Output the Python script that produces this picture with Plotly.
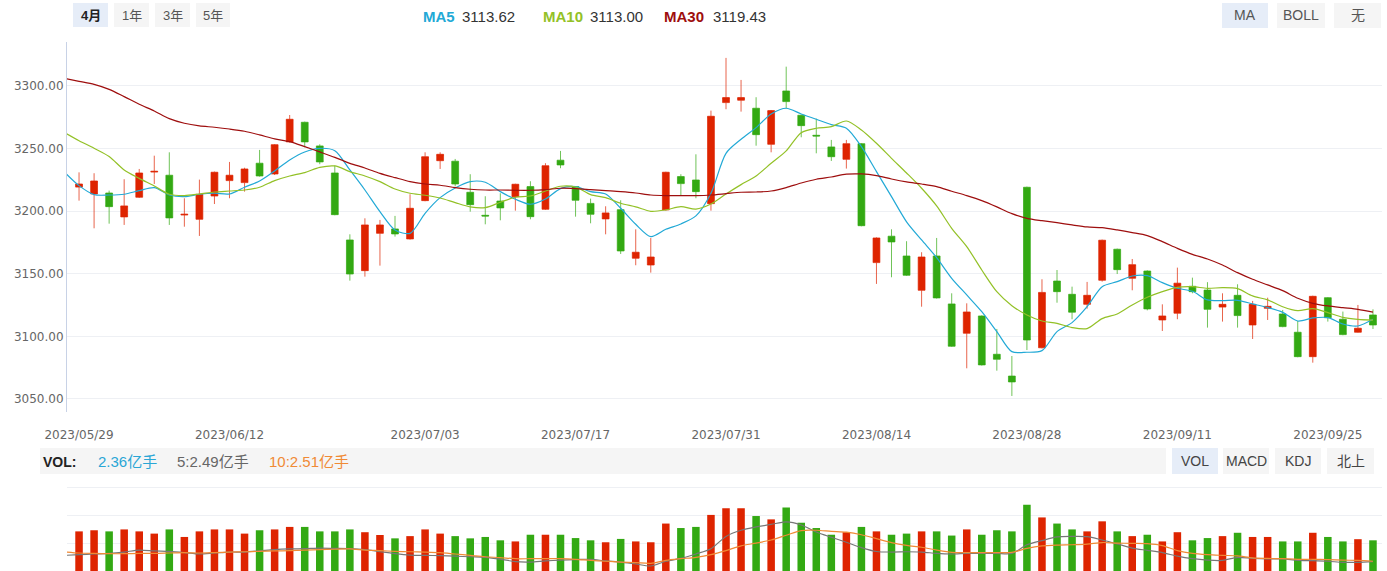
import plotly.graph_objects as go
import pandas as pd

W, H = 1387, 571

# ---------------- data ----------------
all_days = pd.bdate_range("2023-05-29", "2023-09-28")
holidays = pd.to_datetime(["2023-06-22", "2023-06-23"])
dates = [d.strftime("%Y/%m/%d") for d in all_days if d not in holidays]

tick_labels = ["2023/05/29", "2023/06/12", "2023/07/03", "2023/07/17", "2023/07/31",
               "2023/08/14", "2023/08/28", "2023/09/11", "2023/09/25"]

opens = [3219.2, 3213.7, 3214.5, 3195.4, 3211.1, 3231.2, 3228.7, 3196.9, 3193.5, 3212.1,
         3224.4, 3222.8, 3238.3, 3229.7, 3255.3, 3271.0, 3252.1, 3230.5, 3177.0, 3152.5,
         3182.3, 3185.8, 3177.8, 3208.4, 3240.3, 3239.9, 3215.1, 3196.7, 3208.1, 3211.6,
         3219.6, 3201.5, 3240.7, 3219.6, 3206.2, 3193.8, 3201.2, 3162.4, 3157.0, 3201.0,
         3227.6, 3224.9, 3206.0, 3286.7, 3288.6, 3282.2, 3253.4, 3296.0, 3276.6, 3260.6,
         3251.3, 3241.4, 3253.9, 3158.9, 3180.0, 3164.2, 3136.8, 3164.2, 3125.9, 3102.5,
         3116.3, 3085.7, 3068.3, 3219.1, 3090.9, 3144.2, 3133.6, 3125.6, 3144.8, 3169.6,
         3146.4, 3152.2, 3113.1, 3118.5, 3140.0, 3137.0, 3123.4, 3132.8, 3109.1, 3122.4,
         3117.9, 3103.3, 3083.8, 3130.9, 3113.7, 3103.3, 3117.1]
highs = [3231.0, 3230.3, 3216.4, 3225.5, 3233.7, 3244.3, 3247.0, 3210.3, 3225.2, 3231.6,
         3239.3, 3234.7, 3248.9, 3253.6, 3276.8, 3271.5, 3253.4, 3236.4, 3181.5, 3194.3,
         3193.0, 3196.2, 3213.5, 3247.0, 3247.0, 3241.7, 3229.5, 3211.9, 3214.3, 3221.9,
         3223.9, 3238.3, 3248.1, 3220.1, 3210.0, 3203.9, 3208.7, 3185.5, 3178.6, 3231.5,
         3229.5, 3245.4, 3280.3, 3322.4, 3304.8, 3291.0, 3280.8, 3315.4, 3277.1, 3273.9,
         3256.9, 3256.9, 3254.4, 3179.1, 3185.5, 3176.0, 3167.2, 3178.6, 3134.4, 3126.4,
         3116.8, 3105.9, 3084.3, 3219.6, 3145.6, 3153.0, 3139.7, 3143.5, 3177.3, 3170.1,
         3161.8, 3152.7, 3125.6, 3154.9, 3146.9, 3143.3, 3134.4, 3141.6, 3128.3, 3130.9,
         3121.1, 3112.3, 3132.5, 3131.4, 3119.8, 3125.1, 3121.6]
lows = [3208.4, 3186.3, 3190.0, 3189.0, 3210.5, 3221.7, 3189.0, 3187.6, 3180.2, 3205.7,
        3210.3, 3215.6, 3227.6, 3228.9, 3254.8, 3251.0, 3237.5, 3196.7, 3144.5, 3147.7,
        3156.5, 3179.7, 3177.3, 3207.9, 3233.7, 3219.8, 3199.6, 3189.5, 3192.7, 3200.4,
        3193.5, 3201.0, 3234.3, 3195.6, 3190.3, 3181.5, 3165.8, 3156.8, 3150.9, 3200.5,
        3212.7, 3210.3, 3200.4, 3281.4, 3279.5, 3252.3, 3247.0, 3282.2, 3259.0, 3246.2,
        3240.1, 3234.0, 3187.9, 3141.9, 3147.2, 3148.3, 3123.7, 3130.2, 3091.6, 3074.5,
        3076.7, 3072.6, 3052.4, 3089.1, 3090.4, 3126.9, 3113.7, 3122.1, 3143.7, 3149.8,
        3136.8, 3120.8, 3104.3, 3113.7, 3134.4, 3107.0, 3111.8, 3107.0, 3097.9, 3113.1,
        3107.3, 3083.3, 3079.0, 3111.8, 3100.9, 3103.0, 3105.9]
closes = [3221.7, 3224.1, 3203.6, 3204.2, 3230.5, 3231.8, 3194.6, 3197.5, 3213.5, 3231.1,
          3228.7, 3233.7, 3228.1, 3253.1, 3273.4, 3255.3, 3239.3, 3197.2, 3149.8, 3189.0,
          3189.0, 3181.8, 3202.3, 3243.5, 3245.4, 3221.7, 3205.2, 3196.1, 3202.6, 3221.5,
          3195.6, 3236.3, 3236.9, 3208.7, 3197.5, 3198.6, 3168.2, 3167.2, 3163.4, 3231.1,
          3222.0, 3215.6, 3275.8, 3290.7, 3290.7, 3261.1, 3280.3, 3287.5, 3268.3, 3260.0,
          3243.5, 3253.9, 3188.4, 3178.6, 3175.4, 3148.8, 3163.4, 3130.7, 3092.1, 3119.5,
          3077.2, 3081.7, 3063.6, 3097.1, 3135.1, 3135.7, 3119.3, 3132.8, 3176.8, 3153.3,
          3157.3, 3121.9, 3116.3, 3142.5, 3135.7, 3121.6, 3125.6, 3116.6, 3125.6, 3124.0,
          3107.8, 3083.8, 3132.0, 3114.9, 3101.4, 3106.5, 3109.1]

# moving averages as drawn (first value = previous trading day, off the left edge)
ma5 = [3231.6,
       3220.4, 3213.2, 3212.9, 3213.5, 3216.4, 3218.8, 3212.9, 3211.6, 3213.5, 3214.3,
       3213.7, 3219.1, 3224.1, 3232.1, 3240.9, 3247.3, 3250.2, 3248.3, 3232.9, 3216.9,
       3199.6, 3185.0, 3182.3, 3198.3, 3210.8, 3218.5, 3223.6, 3223.1, 3215.6, 3209.5,
       3205.5, 3209.7, 3218.0, 3219.6, 3215.6, 3213.7, 3202.3, 3189.5, 3179.7, 3185.5,
       3189.8, 3196.2, 3214.3, 3246.2, 3257.4, 3266.7, 3277.6, 3282.2, 3277.6, 3273.4,
       3269.1, 3266.2, 3251.5, 3231.6, 3211.6, 3191.5, 3177.0, 3162.9, 3146.4, 3133.1,
       3119.7, 3103.8, 3087.8, 3087.3, 3088.6, 3103.8, 3111.0, 3123.7, 3139.7, 3143.7,
       3148.2, 3148.5, 3142.9, 3138.4, 3136.0, 3129.1, 3128.5, 3128.8, 3125.9, 3123.0,
       3119.2, 3112.3, 3114.7, 3115.0, 3109.9, 3108.3, 3113.6]
ma10 = [3263.0,
        3256.3, 3250.2, 3243.6, 3232.9, 3226.2, 3220.1, 3213.5, 3212.4, 3213.7, 3215.3,
        3216.1, 3216.9, 3219.1, 3224.4, 3228.1, 3230.8, 3235.0, 3236.1, 3231.6, 3228.1,
        3223.6, 3217.7, 3214.3, 3212.7, 3210.5, 3206.8, 3203.4, 3202.8, 3207.1, 3211.1,
        3212.1, 3216.1, 3219.9, 3219.3, 3213.2, 3210.8, 3206.3, 3203.4, 3199.9, 3201.0,
        3203.6, 3201.7, 3205.7, 3213.7, 3221.2, 3228.1, 3238.2, 3248.1, 3262.7, 3266.2,
        3267.5, 3272.0, 3264.8, 3254.2, 3242.2, 3230.5, 3218.3, 3204.2, 3186.3, 3171.7,
        3153.0, 3135.7, 3124.5, 3117.1, 3112.3, 3110.4, 3107.0, 3106.2, 3114.2, 3117.9,
        3125.1, 3131.2, 3135.7, 3139.2, 3139.7, 3138.4, 3138.9, 3138.1, 3132.3, 3129.1,
        3123.7, 3120.5, 3122.1, 3119.0, 3115.2, 3113.6, 3113.0]
ma30 = [3306.1,
        3303.7, 3301.3, 3297.3, 3291.5, 3285.4, 3280.0, 3273.9, 3270.2, 3268.1, 3267.0,
        3265.6, 3263.8, 3260.9, 3257.7, 3255.5, 3251.5, 3247.3, 3243.0, 3238.2, 3234.5,
        3230.2, 3226.8, 3223.6, 3221.7, 3220.7, 3218.8, 3217.5, 3216.9, 3216.9, 3216.7,
        3216.7, 3217.2, 3218.3, 3218.0, 3217.2, 3216.4, 3215.6, 3214.5, 3212.9, 3212.4,
        3212.4, 3212.4, 3212.9, 3214.0, 3215.1, 3215.3, 3216.1, 3218.8, 3222.5, 3225.5,
        3227.3, 3229.5, 3229.7, 3228.4, 3225.7, 3223.4, 3221.7, 3219.6, 3215.9, 3212.4,
        3208.4, 3203.4, 3198.0, 3194.3, 3192.4, 3190.8, 3189.0, 3187.4, 3186.8, 3185.0,
        3182.9, 3180.5, 3175.7, 3170.3, 3165.5, 3161.8, 3157.0, 3150.9, 3145.6, 3141.1,
        3136.5, 3130.4, 3126.4, 3124.3, 3122.9, 3121.6, 3119.4]

# volume panel (values in the panel's grid units)
volumes = [1.42, 1.46, 1.42, 1.49, 1.42, 1.34, 1.49, 1.22, 1.42, 1.49,
           1.49, 1.34, 1.46, 1.49, 1.58, 1.58, 1.42, 1.42, 1.49, 1.39,
           1.29, 1.17, 1.25, 1.49, 1.34, 1.25, 1.17, 1.22, 1.10, 1.06,
           1.30, 1.30, 1.30, 1.18, 1.10, 1.03, 1.15, 1.06, 1.03, 1.70,
           1.54, 1.58, 2.01, 2.25, 2.25, 1.97, 1.85, 2.28, 1.73, 1.54,
           1.30, 1.39, 1.58, 1.42, 1.30, 1.34, 1.42, 1.42, 1.27, 1.49,
           1.30, 1.46, 1.42, 2.37, 1.92, 1.70, 1.49, 1.42, 1.78, 1.42,
           1.25, 1.30, 1.06, 1.39, 1.10, 1.18, 1.25, 1.37, 1.22, 1.22,
           1.06, 1.06, 1.37, 1.22, 1.06, 1.14, 1.10]
vol_ma5 = [0.56,
           0.585, 0.61, 0.63, 0.68, 0.75, 0.72, 0.70, 0.66, 0.61, 0.645,
           0.68, 0.68, 0.72, 0.765, 0.79, 0.80, 0.82, 0.81, 0.80, 0.765,
           0.69, 0.62, 0.57, 0.56, 0.55, 0.53, 0.51, 0.49, 0.425, 0.335,
           0.32, 0.36, 0.39, 0.41, 0.42, 0.36, 0.32, 0.25, 0.18, 0.35,
           0.45, 0.61, 0.80, 1.24, 1.46, 1.58, 1.67, 1.76, 1.65, 1.40,
           1.21, 1.03, 0.84, 0.70, 0.68, 0.69, 0.68, 0.63, 0.61, 0.63,
           0.63, 0.63, 0.63, 0.94, 1.09, 1.22, 1.24, 1.23, 1.11, 0.97,
           0.82, 0.74, 0.66, 0.53, 0.44, 0.39, 0.38, 0.49, 0.45, 0.43,
           0.43, 0.38, 0.37, 0.35, 0.31, 0.31, 0.335]
vol_ma10 = [0.69,
            0.645, 0.63, 0.62, 0.62, 0.63, 0.63, 0.645, 0.66, 0.645, 0.66,
            0.68, 0.69, 0.705, 0.72, 0.73, 0.75, 0.765, 0.78, 0.79, 0.75,
            0.73, 0.705, 0.69, 0.68, 0.66, 0.61, 0.56, 0.51, 0.48, 0.44,
            0.44, 0.44, 0.44, 0.42, 0.38, 0.35, 0.32, 0.30, 0.275, 0.38,
            0.44, 0.49, 0.585, 0.73, 0.90, 1.00, 1.11, 1.28, 1.45, 1.46,
            1.42, 1.39, 1.30, 1.16, 1.02, 0.92, 0.85, 0.75, 0.67, 0.66,
            0.66, 0.66, 0.67, 0.81, 0.90, 0.93, 0.94, 0.96, 1.02, 1.00,
            0.99, 0.98, 0.91, 0.73, 0.63, 0.585, 0.56, 0.54, 0.47, 0.45,
            0.44, 0.42, 0.42, 0.41, 0.39, 0.38, 0.35]

header_ma_values = ["3113.62", "3113.00", "3119.43"]
vol_header = ["2.36亿手", "5:2.49亿手", "10:2.51亿手"]
y_ticks = [3050, 3100, 3150, 3200, 3250, 3300]

# ---------------- styling ----------------
RED = "#de2400"
GREEN = "#33a913"
C_MA5, C_MA10, C_MA30 = "#22a9d6", "#93c127", "#9e0e0e"
C_VMA5, C_VMA10 = "#777777", "#f08a35"
FONT = "Liberation Sans, Arial, Noto Sans CJK SC, sans-serif"
TICKFONT = dict(family="DejaVu Sans, Noto Sans CJK SC", size=12, color="#666666")

idx = list(range(len(dates)))
ma_idx = list(range(-1, len(dates)))
vol_colors = [RED if c > o else GREEN for o, c in zip(opens, closes)]
tick_idx = [dates.index(t) for t in tick_labels]

fig = go.Figure()
fig.add_trace(go.Candlestick(
    x=idx, open=opens, high=highs, low=lows, close=closes,
    increasing=dict(line=dict(color="rgba(222,36,0,0.7)", width=1), fillcolor=RED),
    decreasing=dict(line=dict(color="rgba(51,169,19,0.7)", width=1), fillcolor=GREEN),
    whiskerwidth=0, xaxis="x", yaxis="y", hoverinfo="skip"))
for arr, col in [(ma5, C_MA5), (ma10, C_MA10), (ma30, C_MA30)]:
    fig.add_trace(go.Scatter(x=ma_idx, y=arr, mode="lines",
                             line=dict(color=col, width=1.2, shape="spline", smoothing=0.8),
                             xaxis="x", yaxis="y", hoverinfo="skip"))
fig.add_trace(go.Bar(x=idx, y=volumes, marker=dict(color=vol_colors, line=dict(width=0)),
                     width=0.5, xaxis="x2", yaxis="y2", hoverinfo="skip"))
for arr, col in [(vol_ma5, C_VMA5), (vol_ma10, C_VMA10)]:
    fig.add_trace(go.Scatter(x=ma_idx, y=arr, mode="lines",
                             line=dict(color=col, width=1.2, shape="spline", smoothing=0.8),
                             xaxis="x2", yaxis="y2", hoverinfo="skip"))

def px(x):
    return x / W

def py(y):
    return 1 - y / H

shapes = []
annotations = []

def button(x0, x1, y0, y1, text, fill, color="#555555", size=14, bold=False):
    shapes.append(dict(type="rect", xref="paper", yref="paper", x0=px(x0), x1=px(x1),
                       y0=py(y1), y1=py(y0), fillcolor=fill, line=dict(width=0), layer="below"))
    annotations.append(dict(xref="paper", yref="paper", x=px((x0 + x1) / 2), y=py((y0 + y1) / 2),
                            text=f"<b>{text}</b>" if bold else text, showarrow=False,
                            xanchor="center", yanchor="middle",
                            font=dict(family=FONT, size=size, color=color)))

def label(x, y, text, color, size=15, bold=False):
    annotations.append(dict(xref="paper", yref="paper", x=px(x), y=py(y),
                            text=f"<b>{text}</b>" if bold else text, showarrow=False,
                            xanchor="left", yanchor="middle",
                            font=dict(family=FONT, size=size, color=color)))

SEL = "#e6edf8"
OFF = "#f5f5f5"
# range buttons
button(73, 108, 3, 27, "4月", SEL, color="#222222", size=13, bold=True)
button(114, 149, 3, 27, "1年", OFF, size=13)
button(155, 190, 3, 27, "3年", OFF, size=13)
button(196, 230, 3, 27, "5年", OFF, size=13)
# MA legend
label(421, 16, "MA5", C_MA5, bold=True)
label(460, 16, header_ma_values[0], "#333333")
label(541, 16, "MA10", C_MA10, bold=True)
label(588, 16, header_ma_values[1], "#333333")
label(662, 16, "MA30", C_MA30, bold=True)
label(711, 16, header_ma_values[2], "#333333")
# indicator buttons
button(1222, 1268, 3, 28, "MA", SEL)
button(1277, 1325, 3, 28, "BOLL", OFF)
button(1334, 1381, 3, 28, "无", OFF)

# volume header strip
shapes.append(dict(type="rect", xref="paper", yref="paper", x0=px(40), x1=px(1166),
                   y0=py(474), y1=py(448), fillcolor=OFF, line=dict(width=0), layer="below"))
label(41, 461.5, "VOL:", "#222222", size=14, bold=True)
label(96, 461.5, vol_header[0], "#2aa6d5")
label(175, 461.5, vol_header[1], "#666666")
label(267, 461.5, vol_header[2], C_VMA10)
button(1172, 1218, 448, 474, "VOL", SEL, color="#444444")
button(1223, 1269, 448, 474, "MACD", OFF, color="#444444")
button(1275, 1321, 448, 474, "KDJ", OFF, color="#444444")
button(1327, 1374, 448, 474, "北上", OFF, color="#444444")

XDOM = [67 / W, 1382 / W]
XR = [-0.8, 86.6]
GRID = "#eef0f4"

fig.update_layout(
    width=W, height=H, margin=dict(l=0, r=0, t=0, b=0, pad=0), autosize=False,
    paper_bgcolor="white", plot_bgcolor="white", showlegend=False,
    boxgap=0.35,
    shapes=shapes, annotations=annotations,
    xaxis=dict(domain=XDOM, range=XR, anchor="y", tickmode="array", tickvals=tick_idx,
               ticktext=tick_labels, showgrid=False, zeroline=False, showline=False,
               ticks="", ticklabelstandoff=14, tickfont=TICKFONT, automargin=False,
               rangeslider=dict(visible=False)),
    xaxis2=dict(domain=XDOM, range=XR, anchor="y2", matches="x", showticklabels=False,
                showgrid=False, zeroline=False, showline=False, automargin=False),
    yaxis=dict(domain=[(H - 412) / H, (H - 42) / H], range=[3039.6, 3335.1],
               tickmode="array", tickvals=y_ticks, ticktext=[f"{v:.2f}" for v in y_ticks],
               showgrid=True, gridcolor=GRID, gridwidth=1, zeroline=False,
               showline=True, linecolor="#c8d2e6", linewidth=1, ticks="",
               ticklabelstandoff=0, tickfont=TICKFONT, automargin=False),
    yaxis2=dict(domain=[0, (H - 484.5) / H], range=[0, 3.1], tickmode="array",
                tickvals=[1, 2, 3], showticklabels=False, showgrid=True, gridcolor=GRID,
                zeroline=False, showline=False, automargin=False),
)

fig.write_html("out.html")
